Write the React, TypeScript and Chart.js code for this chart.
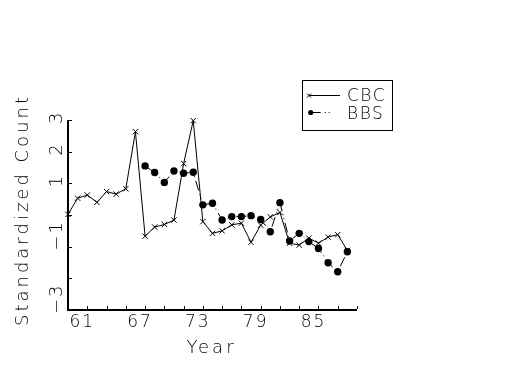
import { useEffect, useRef } from 'react';
import { Chart, registerables } from 'chart.js';

Chart.register(...registerables);

const years = [
  1959, 1960, 1961, 1962, 1963, 1964, 1965, 1966, 1967, 1968,
  1969, 1970, 1971, 1972, 1973, 1974, 1975, 1976, 1977, 1978,
  1979, 1980, 1981, 1982, 1983, 1984, 1985, 1986, 1987, 1988,
];

const cbcCounts = [
  0.02, 0.53, 0.63, 0.4, 0.74, 0.66, 0.83, 2.63, -0.67, -0.38,
  -0.3, -0.16, 1.62, 2.98, -0.21, -0.58, -0.5, -0.31, -0.26, -0.86,
  -0.32, -0.06, 0.08, -0.89, -0.95, -0.73, -0.89, -0.7, -0.62, -1.12,
];

const bbsCounts: (number | null)[] = [
  null, null, null, null, null, null, null, null, 1.55, 1.34,
  1.03, 1.39, 1.32, 1.35, 0.32, 0.37, -0.16, -0.05, -0.05, -0.02,
  -0.14, -0.53, 0.39, -0.82, -0.58, -0.84, -1.06, -1.51, -1.79, -1.16,
];

const seriesNames = ['CBC', 'BBS'];
const xTickYears = [1961, 1967, 1973, 1979, 1985];
const xTickLabels = ['61', '67', '73', '79', '85'];
const yTickValues = [3, 2, 1, -1, -3];
const yTickLabels = ['3', '2', '1', '\u22121', '\u22123'];
const xTitle = 'Year';
const yTitle = 'Standardized Count';

const FONT = "'DejaVu Sans', sans-serif";
const BBS_DASH = [10, 4, 1, 3, 1, 4];

const decorPlugin = {
  id: 'decor',
  afterDraw(chart: any) {
    const ctx: CanvasRenderingContext2D = chart.ctx;
    const xs = chart.scales.x;
    const ys = chart.scales.y;
    const { left, right, top, bottom } = chart.chartArea;
    ctx.save();
    ctx.fillStyle = '#000';
    ctx.strokeStyle = '#000';

    // axis lines (2px)
    ctx.fillRect(left - 1, top, 2, bottom - top + 1);
    ctx.fillRect(left - 1, bottom - 1, right - left + 1, 2);

    // inward ticks
    ctx.lineWidth = 1;
    ctx.beginPath();
    for (let v = -3; v <= 3; v++) {
      const py = Math.round(ys.getPixelForValue(v)) + 0.5;
      ctx.moveTo(left + 1, py);
      ctx.lineTo(left + 4, py);
    }
    for (let yr = 1959; yr <= 1989; yr += 2) {
      const px = Math.round(xs.getPixelForValue(yr)) + 0.5;
      ctx.moveTo(px, bottom - 1);
      ctx.lineTo(px, bottom - 4);
    }
    ctx.stroke();

    (ctx as any).letterSpacing = '2px';
    // x tick labels
    ctx.font = `200 17px ${FONT}`;
    ctx.textAlign = 'center';
    ctx.textBaseline = 'alphabetic';
    xTickYears.forEach((yr, i) => {
      const px = xs.getPixelForValue(yr) - 5;
      ctx.fillText(xTickLabels[i], px, 327);
    });

    // y tick labels (rotated)
    ctx.font = `200 18px ${FONT}`;
    ctx.textAlign = 'left';
    yTickValues.forEach((v, i) => {
      const py = ys.getPixelForValue(v);
      ctx.save();
      ctx.translate(62, py + 4);
      ctx.rotate(-Math.PI / 2);
      ctx.fillText(yTickLabels[i], 0, 0);
      ctx.restore();
    });

    // titles
    (ctx as any).letterSpacing = '3px';
    ctx.font = `200 18px ${FONT}`;
    ctx.textAlign = 'center';
    ctx.fillText(xTitle, (left + right) / 2 - 1, 353);
    ctx.save();
    ctx.translate(28, 210);
    ctx.rotate(-Math.PI / 2);
    ctx.fillText(yTitle, 0, 0);
    ctx.restore();

    // legend
    ctx.lineWidth = 1;
    ctx.strokeRect(302.5, 80.5, 90, 50);
    // CBC row
    const r1 = 95.5;
    ctx.beginPath();
    ctx.moveTo(309, r1);
    ctx.lineTo(340, r1);
    ctx.moveTo(307, r1 - 2);
    ctx.lineTo(311, r1 + 2);
    ctx.moveTo(311, r1 - 2);
    ctx.lineTo(307, r1 + 2);
    ctx.stroke();
    // BBS row
    const r2 = 112.5;
    ctx.setLineDash(BBS_DASH);
    ctx.beginPath();
    ctx.moveTo(310.7, r2);
    ctx.lineTo(331, r2);
    ctx.stroke();
    ctx.setLineDash([]);
    ctx.beginPath();
    ctx.arc(310.7, r2, 2.6, 0, Math.PI * 2);
    ctx.fill();
    (ctx as any).letterSpacing = '1.5px';
    ctx.font = `200 17px ${FONT}`;
    ctx.textAlign = 'left';
    ctx.fillText(seriesNames[0], 347, 101);
    ctx.fillText(seriesNames[1], 347, 119);

    ctx.restore();
  },
};

export default function App() {
  const ref = useRef<HTMLCanvasElement | null>(null);

  useEffect(() => {
    if (!ref.current) return;
    const chart = new Chart(ref.current, {
      type: 'line',
      data: {
        datasets: [
          {
            label: seriesNames[0],
            data: years.map((x, i) => ({ x, y: cbcCounts[i] })),
            borderColor: '#000',
            backgroundColor: '#000',
            borderWidth: 1,
            pointStyle: 'crossRot',
            pointRadius: 3.8,
            pointBorderWidth: 1,
            pointBorderColor: '#000',
            tension: 0,
            clip: false as any,
          },
          {
            label: seriesNames[1],
            data: years.map((x, i) => ({ x, y: bbsCounts[i] })),
            borderColor: '#000',
            backgroundColor: '#000',
            borderWidth: 1,
            borderDash: BBS_DASH,
            pointStyle: 'circle',
            pointRadius: 3.7,
            pointBorderWidth: 0,
            pointBackgroundColor: '#000',
            tension: 0,
            spanGaps: false,
            clip: false as any,
          },
        ],
      },
      options: {
        animation: false,
        responsive: false,
        devicePixelRatio: 1,
        layout: { padding: { left: 68, top: 120, right: 168, bottom: 65 } },
        plugins: { legend: { display: false }, tooltip: { enabled: false } },
        scales: {
          x: { type: 'linear', min: 1959, max: 1989, display: false },
          y: { type: 'linear', min: -3, max: 3, display: false },
        },
      },
      plugins: [decorPlugin],
    });
    return () => chart.destroy();
  }, []);

  return (
    <div style={{ position: 'absolute', left: 0, top: 0, width: 525, height: 375, background: '#fff' }}>
      <canvas ref={ref} width={525} height={375} style={{ width: 525, height: 375, display: 'block' }} />
    </div>
  );
}
